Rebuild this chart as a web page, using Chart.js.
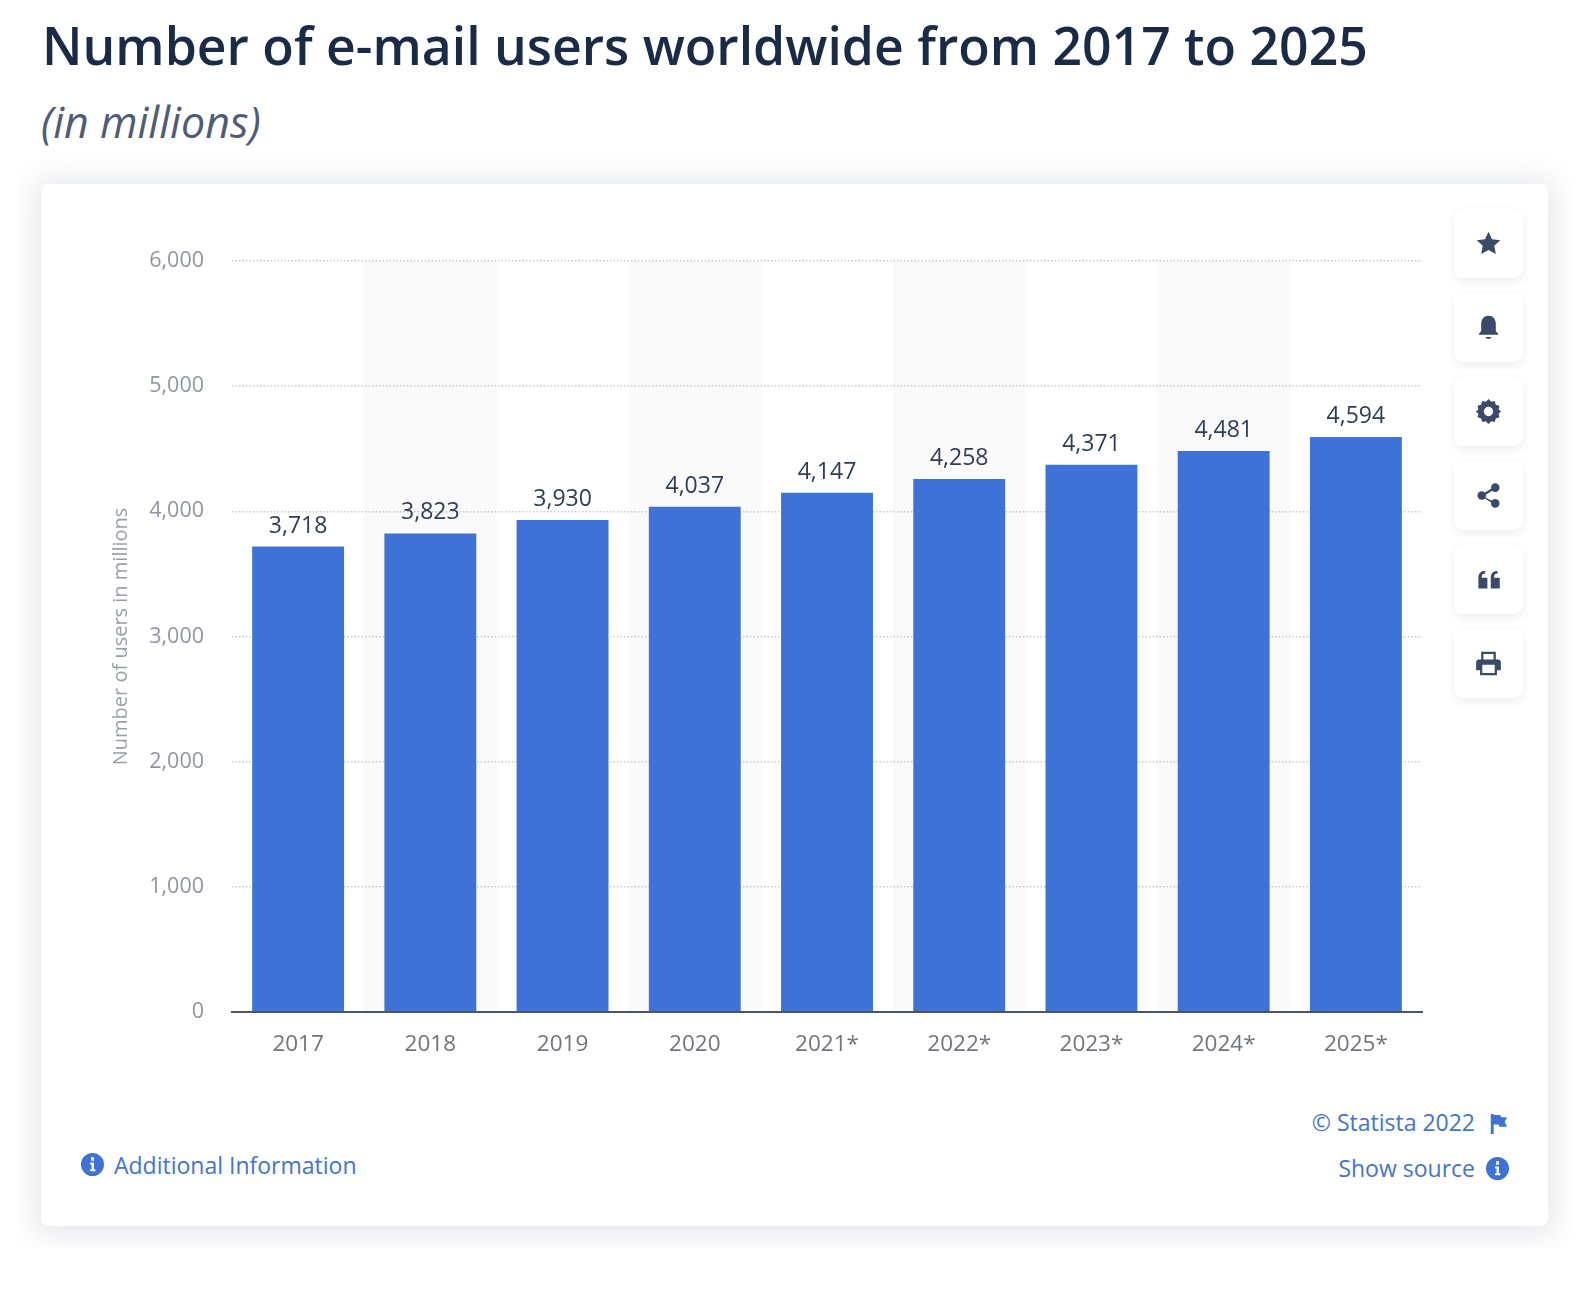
<!DOCTYPE html>
<html>
<head>
<meta charset="utf-8">
<title>Number of e-mail users worldwide</title>
<script src="https://cdn.jsdelivr.net/npm/chart.js@4"></script>
<style>
	html, body { margin: 0; padding: 0; background: #fff; }
	body { position: relative; width: 1592px; height: 1292px; overflow: hidden; font-family: "Open Sans", sans-serif; }
	h1 { position: absolute; left: 42px; top: 7px; margin: 0; font-size: 51.7px; line-height: 76px; font-weight: 600; color: #1a2b47; white-space: nowrap; }
	h2 { position: absolute; left: 41px; top: 92px; margin: 0; font-size: 43px; line-height: 60px; font-weight: 400; font-style: italic; color: #4f5b78; white-space: nowrap; }
	.clip { position: absolute; left: 17px; top: 150px; width: 1556px; height: 1098px; overflow: hidden; }
	.card { position: absolute; left: 24px; top: 34px; width: 1507px; height: 1042px; background: #fff; border-radius: 8px; box-shadow: 0 2px 30px 6px rgba(45, 60, 95, 0.13); }
	#chart { position: absolute; left: 100px; top: 220px; }
	.btn { position: absolute; left: 1454px; width: 69px; height: 69px; background: #fff; border-radius: 9px; box-shadow: 0 3px 8px rgba(45, 60, 95, 0.09); }
	.btn svg { position: absolute; left: 21px; top: 21px; width: 27px; height: 27px; fill: #3b4a68; }
	.link { position: absolute; color: #4373d6; font-size: 23px; line-height: 32px; white-space: nowrap; }
	.icon { position: absolute; width: 23px; height: 23px; fill: #3f72d6; }
</style>
</head>
<body>
<h1>Number of e-mail users worldwide from 2017 to 2025</h1>
<h2>(in millions)</h2>
<div class="clip"><div class="card"></div></div>
<canvas id="chart" width="1330" height="850"></canvas>

<div class="btn" style="top:209px"><svg viewBox="0 0 24 24"><path d="M12 1.500l3.100 6.700 7.400 .9-5.400 5 1.400 7.300-6.500-3.600-6.500 3.600 1.400-7.300-5.400-5 7.400-.9z"/></svg></div>
<div class="btn" style="top:293px"><svg viewBox="0 0 24 24"><path d="M12 1.500c4 0 6.500 3 6.500 7.500v6l2 2.500v1H3.500v-1l2-2.500V9c0-4.500 2.500-7.500 6.500-7.500zM9.500 20.500h5c0 1-1 1.700-2.500 1.700s-2.500-.7-2.500-1.700z"/></svg></div>
<div class="btn" style="top:377px"><svg style="left:22px;top:22px;width:25px;height:25px" viewBox="0 0 24 24"><path fill-rule="evenodd" d="M12 0l2.600 2.700 3.400-.8 1 3.500 3.500 1-.8 3.400L24 12l-2.300 2.200.8 3.400-3.500 1-1 3.500-3.400-.8L12 24l-2.600-2.700-3.400.8-1-3.500-3.500-1 .8-3.400L0 12l2.300-2.200-.8-3.400 3.500-1 1-3.500 3.400.8zM12 7.500a4.500 4.500 0 1 0 0 9 4.500 4.500 0 0 0 0-9z"/></svg></div>
<div class="btn" style="top:461px"><svg viewBox="0 0 24 24"><circle cx="18" cy="5" r="3.800"/><circle cx="18" cy="19" r="3.800"/><circle cx="6" cy="12" r="3.800"/><path d="M6 11l11.500-7 1 1.800L7 12.800l11.500 5.400-1 1.800L6 13z"/></svg></div>
<div class="btn" style="top:545px"><svg viewBox="0 0 24 24"><path fill-rule="evenodd" d="M3 20V10c0-3 1.800-5 4.500-5.500H9v2.300H7.800C6.600 7 6 8 6 10.500h5V20zM14 20V10c0-3 1.800-5 4.500-5.500H20v2.300h-1.200C17.600 7 17 8 17 10.500h5V20z"/></svg></div>
<div class="btn" style="top:629px"><svg viewBox="0 0 24 24"><path fill-rule="evenodd" d="M5.500 1.500h13v7h-2V3.500h-9v5h-2zM3.500 8.500h17c1.400 0 2.500 1.100 2.500 2.500v7h-3.500v4.500h-15V18H1v-7c0-1.400 1.100-2.500 2.500-2.500zM6.500 13v7.500h11V13z"/></svg></div>

<svg class="icon" style="left:81px;top:1153px" viewBox="0 0 24 24"><path fill-rule="evenodd" d="M12 0a12 12 0 1 1 0 24 12 12 0 0 1 0-24zM10.500 4.500v3.500h3V4.500zM9.500 10v2h1.500v5H9.500v2h5.500v-2h-1.500v-7z"/></svg>
<div class="link" style="left:114px;top:1149px">Additional Information</div>
<div class="link" style="right:117px;top:1106px">© Statista 2022</div>
<svg class="icon" style="left:1486px;top:1112px" viewBox="0 0 24 24"><path d="M5 2h3v21H5zM8 3h7l1 2.500h6l-2.500 5 2.500 5h-8l-1-2.500H8z"/></svg>
<div class="link" style="right:117px;top:1152px">Show source</div>
<svg class="icon" style="left:1486px;top:1157px" viewBox="0 0 24 24"><path fill-rule="evenodd" d="M12 0a12 12 0 1 1 0 24 12 12 0 0 1 0-24zM10.500 4.500v3.500h3V4.500zM9.500 10v2h1.500v5H9.500v2h5.500v-2h-1.500v-7z"/></svg>

<script>
var years = ['2017', '2018', '2019', '2020', '2021*', '2022*', '2023*', '2024*', '2025*'];
var users = [3718, 3823, 3930, 4037, 4147, 4258, 4371, 4481, 4594];
var bands = [null, 6000, null, 6000, null, 6000, null, 6000, null];

// Value labels above the bars.
var valueLabels = {
	id: 'valueLabels',
	afterDatasetsDraw: function(chart) {
		var ctx = chart.ctx;
		var bars = chart.getDatasetMeta(0).data;
		ctx.save();
		ctx.font = '500 23px "Open Sans"';
		ctx.fillStyle = '#2f3d58';
		ctx.textAlign = 'center';
		ctx.textBaseline = 'alphabetic';
		bars.forEach(function(bar, i) {
			ctx.fillText(users[i].toLocaleString('en-US'), bar.x, bar.y - 14);
		});
		ctx.restore();
	}
};

new Chart(document.getElementById('chart'), {
	type: 'bar',
	data: {
		labels: years,
		datasets: [{
			label: 'Number of users in millions',
			data: users,
			backgroundColor: '#3f72d6',
			borderWidth: 0,
			barPercentage: 0.695,
			categoryPercentage: 1,
			grouped: false,
			order: 1
		}, {
			label: 'bands',
			data: bands,
			backgroundColor: 'rgba(40, 50, 80, 0.025)',
			borderWidth: 0,
			barPercentage: 1,
			categoryPercentage: 1,
			grouped: false,
			order: 2
		}]
	},
	options: {
		responsive: false,
		animation: false,
		layout: { padding: { top: 18, right: 8 } },
		plugins: {
			legend: { display: false },
			tooltip: { enabled: false }
		},
		scales: {
			x: {
				afterFit: function(scale) { scale.height = 58; },
				grid: { display: false },
				border: { display: true, color: '#4a556c', width: 2, z: 1 },
				ticks: {
					color: '#70757f',
					font: { family: '"Open Sans"', size: 22.5 },
					padding: 11,
					maxRotation: 0
				}
			},
			y: {
				min: 0,
				max: 6000,
				afterFit: function(scale) { scale.width = 132; },
				grid: {
					drawTicks: false,
					color: function(c) { return c.tick.value === 0 ? 'rgba(0,0,0,0)' : '#c6cad1'; },
					lineWidth: 1.5
				},
				border: { display: false, dash: [1.5, 2] },
				title: {
					display: true,
					text: 'Number of users in millions',
					color: '#989eaa',
					font: { family: '"Open Sans"', size: 20 },
					padding: { top: 9, bottom: 8 }
				},
				ticks: {
					stepSize: 1000,
					color: '#8f95a3',
					font: { family: '"Open Sans"', size: 21.5 },
					padding: 28,
					callback: function(value) { return value.toLocaleString('en-US'); }
				}
			}
		}
	},
	plugins: [valueLabels]
});
</script>
</body>
</html>
